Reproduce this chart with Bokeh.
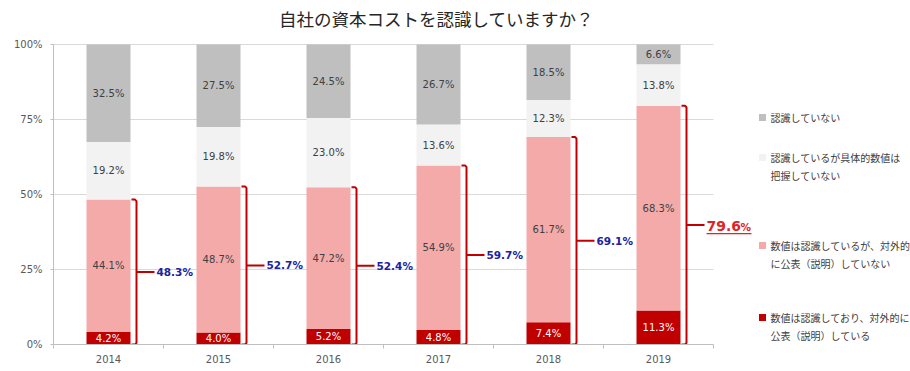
from bokeh.plotting import figure
from bokeh.models import Range1d, FixedTicker, ColumnDataSource
from bokeh.embed import file_html
from bokeh.resources import INLINE
from bokeh.core.properties import value

# ---------------- data ----------------
years = ["2014", "2015", "2016", "2017", "2018", "2019"]
disclosed = [4.2, 4.0, 5.2, 4.8, 7.4, 11.3]            # 数値は認識しており、対外的に公表（説明）している
not_disclosed = [44.1, 48.7, 47.2, 54.9, 61.7, 68.3]   # 数値は認識しているが、対外的に公表（説明）していない
no_number = [19.2, 19.8, 23.0, 13.6, 12.3, 13.8]       # 認識しているが具体的数値は把握していない
not_recognized = [32.5, 27.5, 24.5, 26.7, 18.5, 6.6]   # 認識していない
totals = [48.3, 52.7, 52.4, 59.7, 69.1, 79.6]
total_labels = ["48.3%", "52.7%", "52.4%", "59.7%", "69.1%", "79.6%"]
y_ticks = [0, 25, 50, 75, 100]
y_tick_labels = ["0%", "25%", "50%", "75%", "100%"]
legend_lines = [
    ["認識していない"],
    ["認識しているが具体的数値は", "把握していない"],
    ["数値は認識しているが、対外的", "に公表（説明）していない"],
    ["数値は認識しており、対外的に", "公表（説明）している"],
]
title_text = "自社の資本コストを認識していますか？"

# ---------------- style ----------------
C_DARK = "#c00000"
C_PINK = "#f5aaaa"
C_LIGHT = "#f2f2f2"
C_GRAY = "#bfbfbf"
legend_colors = [C_GRAY, C_LIGHT, C_PINK, C_DARK]
NUM_FONT = value("DejaVu Sans")
JP_FONT = value("Noto Sans CJK JP")

W, H = 910, 371
FL = 53                    # frame left (px)
FBOT = 344                 # frame bottom (px from top)
PX_X = 110.0               # px per category
PX_Y = 3.0                 # px per percent
x_end = (W - FL) / PX_X
y_end = FBOT / PX_Y

p = figure(width=W, height=H, output_backend="svg", toolbar_location=None,
           x_range=Range1d(0, x_end), y_range=Range1d(0, y_end),
           min_border_left=FL, min_border_right=0, min_border_top=0,
           min_border_bottom=H - FBOT)
p.outline_line_color = None
p.xgrid.visible = False
p.ygrid.visible = False
p.background_fill_color = "white"

n = len(years)
xc = [i + 0.5 for i in range(n)]

# grid lines (only across category area)
gy = [t for t in y_ticks if t > 0]
p.segment(x0=[0] * len(gy), x1=[n] * len(gy), y0=gy, y1=gy,
          line_color="#d9d9d9", line_width=1)

# normalised stacks (100% stacked)
series = [disclosed, not_disclosed, no_number, not_recognized]
colors = [C_DARK, C_PINK, C_LIGHT, C_GRAY]
sums = [sum(s[i] for s in series) for i in range(n)]
bottoms = [0.0] * n
lab_x, lab_y, lab_t, lab_c = [], [], [], []
for s, col in zip(series, colors):
    h = [s[i] / sums[i] * 100 for i in range(n)]
    tops = [bottoms[i] + h[i] for i in range(n)]
    p.vbar(x=xc, width=0.4, bottom=bottoms, top=tops, fill_color=col,
           line_color=None)
    for i in range(n):
        lab_x.append(xc[i])
        lab_y.append((bottoms[i] + tops[i]) / 2)
        lab_t.append(f"{s[i]:.1f}%")
        lab_c.append("white" if col == C_DARK else "#404040")
    bottoms = tops
p.text(x=lab_x, y=lab_y, text=lab_t, text_color=lab_c, text_font=NUM_FONT,
       text_font_size="10px", text_align="center", text_baseline="middle")

# brackets
bar_r = 0.2 + 1 / PX_X
bgap = 6 / PX_X
r = 1.5 / PX_X
ry = 1.5 / PX_Y
stack_top = [(disclosed[i] + not_disclosed[i]) / sums[i] * 100 for i in range(n)]
xs, ys = [], []
for i in range(n):
    bx = xc[i] + 0.2 + bgap
    T = stack_top[i]
    xs.append([xc[i] + bar_r, bx - r, bx, bx, bx - r, xc[i] + bar_r])
    ys.append([T, T, T - ry, ry, 0, 0])
    xs.append([bx, bx + 18 / PX_X])
    ys.append([T / 2, T / 2])
p.multi_line(xs=xs, ys=ys, line_color=C_DARK, line_width=2)

# total labels
hl = n - 1  # highlighted (latest year)
bxs = [xc[i] + 0.2 + bgap + 20 / PX_X for i in range(n)]
src = ColumnDataSource(dict(x=[bxs[i] for i in range(n) if i != hl],
                            y=[stack_top[i] / 2 for i in range(n) if i != hl],
                            t=[total_labels[i] for i in range(n) if i != hl]))
p.text(x="x", y="y", text="t", source=src, text_color="#2020a0",
       text_font=NUM_FONT, text_font_size="10.5px", text_font_style="bold",
       text_align="left", text_baseline="middle")
ym = stack_top[hl] / 2 - 0.5 / PX_Y
num, pct = total_labels[hl][:-1], total_labels[hl][-1]
p.text(x=[bxs[hl]], y=[ym], text=[num], text_color="#e02424",
       text_font=NUM_FONT, text_font_size="14px", text_font_style="bold",
       text_align="left", text_baseline="middle")
p.text(x=[bxs[hl]], y=[ym - 1 / PX_Y], text=[pct], x_offset=34,
       text_color="#e02424", text_font=NUM_FONT, text_font_size="10.5px",
       text_font_style="bold", text_align="left", text_baseline="middle")
yu = ym - 8 / PX_Y
p.segment(x0=[bxs[hl]], x1=[bxs[hl] + 45 / PX_X], y0=[yu], y1=[yu],
          line_color="#e02424", line_width=1.2)

# legend (manual)
item_y_px = [117, 157, 245, 317]   # from top of page
leg_sq_x = (762 - FL) / PX_X
leg_tx_x = (770 - FL) / PX_X
sq_y, tx, ty, tt = [], [], [], []
for k, lines in enumerate(legend_lines):
    y0 = (FBOT - item_y_px[k]) / PX_Y
    sq_y.append(y0)
    for j, line in enumerate(lines):
        tx.append(leg_tx_x)
        ty.append(y0 - j * 18 / PX_Y)
        tt.append(line)
p.scatter(x=[leg_sq_x] * len(sq_y), y=sq_y, marker="square", size=7,
          fill_color=legend_colors, line_color=None)
p.text(x=tx, y=ty, text=tt, text_color="#404040", text_font=JP_FONT,
       text_font_size="10px", text_align="left", text_baseline="middle")

# title
p.text(x=[(436 - FL) / PX_X], y=[(FBOT - 18) / PX_Y], text=[title_text],
       text_color="#262626", text_font=JP_FONT, text_font_size="17.5px",
       text_align="center", text_baseline="middle")

# axes
ya = p.yaxis[0]
ya.ticker = FixedTicker(ticks=y_ticks)
ya.major_label_overrides = {t: l for t, l in zip(y_ticks, y_tick_labels)}
ya.bounds = (0, 100)
ya.axis_line_color = C_GRAY
ya.major_tick_line_color = C_GRAY
ya.major_tick_out = 3
ya.major_tick_in = 0
ya.minor_tick_line_color = None
ya.major_label_text_font = "DejaVu Sans"
ya.major_label_text_font_size = "10px"
ya.major_label_text_color = "#595959"
ya.major_label_standoff = 8

xa = p.xaxis[0]
xa.ticker = FixedTicker(ticks=xc, minor_ticks=list(range(n + 1)))
xa.major_label_overrides = {x: y for x, y in zip(xc, years)}
xa.bounds = (0, n)
xa.axis_line_color = C_GRAY
xa.major_tick_line_color = None
xa.major_tick_out = 0
xa.major_tick_in = 0
xa.minor_tick_line_color = C_GRAY
xa.minor_tick_out = 4
xa.minor_tick_in = 0
xa.major_label_text_font = "DejaVu Sans"
xa.major_label_text_font_size = "10px"
xa.major_label_text_color = "#595959"
xa.major_label_standoff = 6

open("out.html", "w").write(file_html(p, INLINE))
